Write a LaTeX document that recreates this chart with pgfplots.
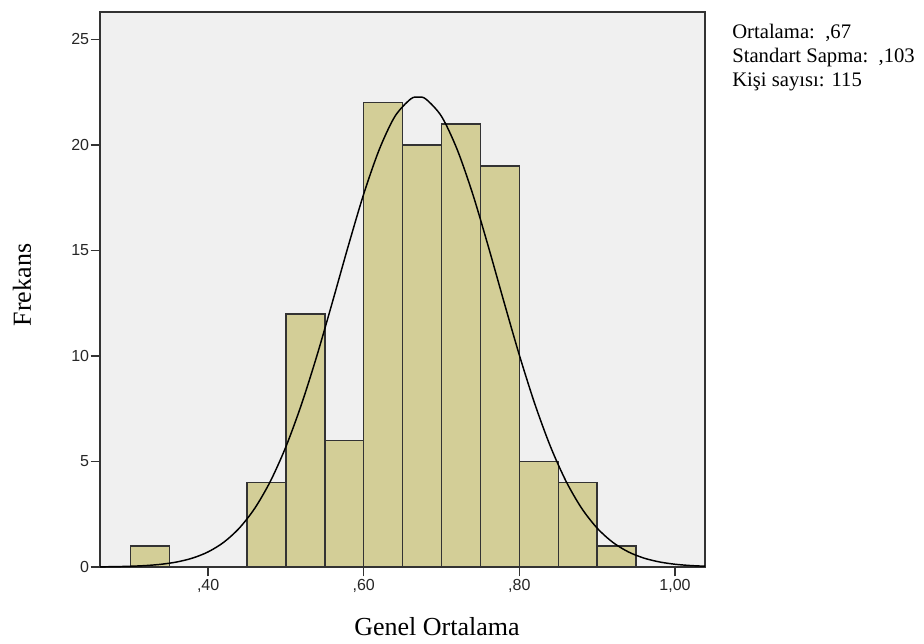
\documentclass[border=0pt]{standalone}
\usepackage{fontspec}
\setmainfont{Liberation Serif}
\newfontfamily\arial{Liberation Sans}
\usepackage{pgfplots}
\pgfplotsset{compat=1.18}

\definecolor{spssbg}{HTML}{F0F0F0}
\definecolor{spssbar}{HTML}{D3CE97}
\definecolor{spssedge}{HTML}{333333}

\begin{document}
\begin{tikzpicture}
% page = 924x643 px, 1px = 0.75pt
\useasboundingbox (0,0) rectangle (693pt,482.25pt);
\begin{axis}[
    at={(75pt,57pt)}, anchor=south west,
    scale only axis,
    width=453.75pt, height=416.25pt,
    xmin=0.261, xmax=1.0386,
    ymin=0, ymax=26.3,
    axis background/.style={fill=spssbg},
    axis line style={draw=spssedge, line width=1pt},
    tick pos=left,
    tick align=outside,
    major tick length=7pt,
    tick style={draw=spssedge, line width=1pt},
    xtick={0.4,0.6,0.8,1.0},
    xticklabels={{,40},{,60},{,80},{1,00}},
    ytick={0,5,10,15,20,25},
    /pgf/number format/assume math mode=true,
    ticklabel style={font=\arial\fontsize{12}{14}\selectfont, text=black!85},
    yticklabel style={inner sep=1pt},
    xticklabel style={inner sep=2pt},
]
\addplot[ybar interval, fill=spssbar, draw=spssedge, line width=1.1pt]
    coordinates {(0.30,1) (0.35,1)};
\addplot[ybar interval, fill=spssbar, draw=spssedge, line width=1.1pt]
    coordinates {
        (0.45,4) (0.50,12) (0.55,6) (0.60,22) (0.65,20) (0.70,21)
        (0.75,19) (0.80,5) (0.85,4) (0.90,1) (0.95,1)
    };
% normal curve, mean ,67  sd ,103  n 115  bin ,05
\addplot[smooth, black, line width=1.1pt] coordinates {
    (0.26,0.008) (0.28,0.017) (0.30,0.035) (0.32,0.069) (0.34,0.131)
    (0.36,0.240) (0.38,0.423) (0.40,0.717) (0.42,1.171) (0.44,1.841)
    (0.46,2.786) (0.48,4.063) (0.50,5.705) (0.52,7.713) (0.54,10.04)
    (0.56,12.59) (0.58,15.20) (0.60,17.68) (0.62,19.79) (0.64,21.35)
    (0.66,22.17) (0.67,22.27) (0.68,22.17) (0.70,21.35) (0.72,19.79)
    (0.74,17.68) (0.76,15.20) (0.78,12.59) (0.80,10.04) (0.82,7.713)
    (0.84,5.705) (0.86,4.063) (0.88,2.786) (0.90,1.841) (0.92,1.171)
    (0.94,0.717) (0.96,0.423) (0.98,0.240) (1.00,0.131) (1.02,0.069)
    (1.04,0.035)
};
\end{axis}
\node[rotate=90, font=\fontsize{19.5}{22}\selectfont] at (16.5pt,268.5pt) {Frekans};
\node[font=\fontsize{19.5}{22}\selectfont] at (327.75pt,12.5pt) {Genel Ortalama};
\begin{scope}[every node/.style={anchor=base west, inner sep=0pt,
      font=\fontsize{15.5}{18}\selectfont}]
\node at (549pt,453pt) {Ortalama:\ \ ,67};
\node at (549pt,435pt) {Standart Sapma:\ \ ,103};
\node at (549pt,417pt) {Kişi sayısı: 115};
\end{scope}
\end{tikzpicture}
\end{document}
